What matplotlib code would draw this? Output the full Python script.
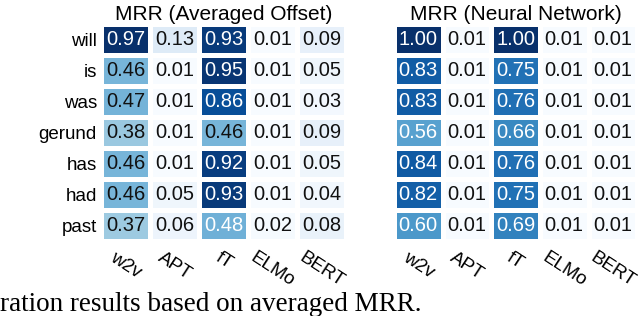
import numpy as np
import matplotlib
matplotlib.use("Agg")
import matplotlib.pyplot as plt

# data
rows = ["will", "is", "was", "gerund", "has", "had", "past"]
cols = ["w2v", "APT", "fT", "ELMo", "BERT"]

mrr_offset = np.array([
    [0.97, 0.13, 0.93, 0.01, 0.09],
    [0.46, 0.01, 0.95, 0.01, 0.05],
    [0.47, 0.01, 0.86, 0.01, 0.03],
    [0.38, 0.01, 0.46, 0.01, 0.09],
    [0.46, 0.01, 0.92, 0.01, 0.05],
    [0.46, 0.05, 0.93, 0.01, 0.04],
    [0.37, 0.06, 0.48, 0.02, 0.08],
])

mrr_nn = np.array([
    [1.00, 0.01, 1.00, 0.01, 0.01],
    [0.83, 0.01, 0.75, 0.01, 0.01],
    [0.83, 0.01, 0.76, 0.01, 0.01],
    [0.56, 0.01, 0.66, 0.01, 0.01],
    [0.84, 0.01, 0.76, 0.01, 0.01],
    [0.82, 0.01, 0.75, 0.01, 0.01],
    [0.60, 0.01, 0.69, 0.01, 0.01],
])

titles = ["MRR (Averaged Offset)", "MRR (Neural Network)"]

plt.rcParams['font.family'] = ['Liberation Sans', 'DejaVu Sans']

fig = plt.figure(figsize=(6.4, 3.16), dpi=100)
ax1 = fig.add_axes([0.158, 0.237, 0.383, 0.687])
ax2 = fig.add_axes([0.6156, 0.237, 0.380, 0.687])


def draw(ax, data, title, show_rows):
    ax.pcolormesh(data, cmap="Blues", vmin=data.min(), vmax=data.max(),
                  edgecolors="white", linewidth=2.2)
    ax.set_xlim(0, data.shape[1])
    ax.set_ylim(data.shape[0], 0)
    for i in range(data.shape[0]):
        for j in range(data.shape[1]):
            v = data[i, j]
            ax.text(j + 0.5, i + 0.5, f"{v:.2f}", ha="center", va="center",
                    fontsize=14.5, color="white" if v > 0.475 else "#111111")
    ax.set_xticks(np.arange(data.shape[1]) + 0.5)
    ax.set_xticklabels(cols, rotation=-33, ha="center", va="top", fontsize=13.5)
    if show_rows:
        ax.set_yticks(np.arange(data.shape[0]) + 0.5)
        ax.set_yticklabels(rows, fontsize=13.5)
    else:
        ax.set_yticks([])
    ax.tick_params(axis="y", length=0, pad=3)
    ax.tick_params(axis="x", length=0, pad=6)
    for s in ax.spines.values():
        s.set_visible(False)
    ax.set_title(title, fontsize=15, pad=3)


draw(ax1, mrr_offset, titles[0], True)
draw(ax2, mrr_nn, titles[1], False)

fig.text(0.0, 0.016, "ration results based on averaged MRR.",
         family="Liberation Serif", fontsize=19.5, ha="left", va="baseline")

fig.savefig("out.png", dpi=100)
